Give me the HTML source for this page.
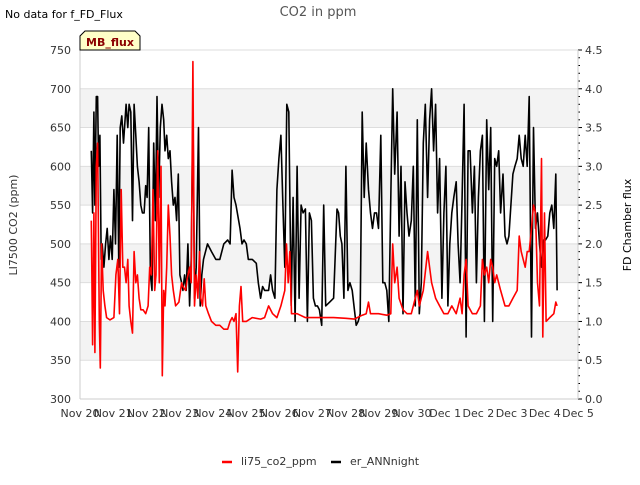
<!DOCTYPE html>
<html><head><meta charset="utf-8"><style>
body{margin:0;background:#fff;font-family:"Liberation Sans","DejaVu Sans",sans-serif;}
svg text{font-family:"DejaVu Sans","Liberation Sans",sans-serif;}
</style></head><body>
<svg id="c" width="640" height="480" xmlns="http://www.w3.org/2000/svg">
<text x="5" y="18" font-size="11" fill="#000">No data for f_FD_Flux</text>
<text x="318" y="16" font-size="13" fill="#555" text-anchor="middle">CO2 in ppm</text>
<g id="plot"></g>
<g>
<path d="M80,50 L80,36 L85,31 L135,31 L140,36 L140,50 Z" fill="#ffffc8" stroke="#000" stroke-width="1"/>
<text x="110" y="46" font-size="11" font-weight="bold" fill="#8b0000" text-anchor="middle">MB_flux</text>
</g>
<text transform="translate(17,225) rotate(-90)" font-size="11" fill="#333" text-anchor="middle">LI7500 CO2 (ppm)</text>
<text transform="translate(631,225) rotate(-90)" font-size="11" fill="#000" text-anchor="middle">FD Chamber flux</text>
<g>
<g><line x1="222" y1="462" x2="232" y2="462" stroke="#f00" stroke-width="2.5"/><text x="241" y="465" font-size="11" fill="#333">li75_co2_ppm</text></g>
<g><line x1="331" y1="462" x2="341" y2="462" stroke="#000" stroke-width="2.5"/><text x="350" y="465" font-size="11" fill="#333">er_ANNnight</text></g>
</g>
</svg>
<script>
const xTickLabels=["Nov 20","Nov 21","Nov 22","Nov 23","Nov 24","Nov 25","Nov 26","Nov 27","Nov 28","Nov 29","Nov 30","Dec 1","Dec 2","Dec 3","Dec 4","Dec 5"];
const yTicks=[300,350,400,450,500,550,600,650,700,750];
const y2Ticks=[0,0.5,1,1.5,2,2.5,3,3.5,4,4.5];
const redDays=[.34,.38,.42,.45,.49,.53,.58,.61,.65,.70,.75,.80,.90,1.02,1.08,1.14,1.19,1.24,1.29,1.34,1.39,1.44,1.48,1.53,1.58,1.63,1.68,1.73,1.78,1.83,1.90,1.98,2.05,2.10,2.15,2.20,2.25,2.29,2.34,2.39,2.44,2.48,2.52,2.56,2.61,2.66,2.71,2.76,2.81,2.88,2.98,3.06,3.10,3.18,3.23,3.30,3.35,3.40,3.45,3.50,3.55,3.60,3.64,3.69,3.74,3.79,3.87,3.96,4.09,4.21,4.33,4.45,4.52,4.58,4.64,4.70,4.75,4.80,4.85,4.90,5.01,5.19,5.44,5.56,5.68,5.80,5.93,6.05,6.17,6.22,6.27,6.32,6.37,6.54,6.79,7.15,7.64,8.01,8.26,8.50,8.62,8.69,8.75,8.99,9.24,9.36,9.42,9.48,9.55,9.61,9.73,9.85,9.98,10.10,10.16,10.22,10.34,10.47,10.53,10.59,10.65,10.71,10.83,10.96,11.08,11.20,11.33,11.45,11.51,11.57,11.63,11.69,11.82,11.94,12.06,12.12,12.18,12.25,12.31,12.37,12.43,12.49,12.55,12.67,12.80,12.92,13.04,13.17,13.23,13.29,13.35,13.41,13.47,13.53,13.60,13.66,13.72,13.78,13.84,13.90,13.94,13.99,14.04,14.15,14.27,14.33,14.37];
const redPpm=[530,370,540,360,600,630,400,340,500,440,420,405,402,405,460,480,410,570,470,470,450,480,420,400,385,490,450,460,430,415,415,410,420,470,460,570,440,460,620,450,600,330,440,420,470,550,510,460,440,420,425,450,445,440,455,470,450,735,420,460,430,490,430,420,455,420,410,400,395,395,390,390,400,405,400,410,335,420,445,400,400,405,403,405,420,410,405,420,440,500,450,490,410,410,405,405,405,404,403,408,410,425,410,410,408,410,500,450,470,430,415,410,410,430,440,420,440,490,470,450,440,430,420,410,410,420,410,430,410,460,480,420,410,410,420,480,460,470,450,480,470,450,460,440,420,420,430,440,510,490,480,470,490,490,520,550,540,450,420,610,380,540,400,405,410,425,420];
const blackDays=[.34,.38,.42,.45,.49,.53,.56,.60,.64,.67,.72,.77,.82,.87,.92,.97,1.02,1.07,1.12,1.17,1.21,1.26,1.31,1.39,1.44,1.48,1.53,1.58,1.63,1.68,1.73,1.78,1.83,1.88,1.93,1.98,2.02,2.07,2.12,2.17,2.22,2.27,2.32,2.37,2.42,2.47,2.52,2.56,2.61,2.66,2.71,2.76,2.81,2.86,2.91,2.96,3.01,3.06,3.10,3.15,3.20,3.25,3.30,3.35,3.40,3.45,3.50,3.57,3.62,3.67,3.72,3.84,3.96,4.09,4.21,4.33,4.45,4.52,4.58,4.64,4.70,4.82,4.88,4.94,5.01,5.07,5.19,5.31,5.37,5.44,5.50,5.56,5.68,5.74,5.80,5.87,5.93,5.99,6.05,6.11,6.17,6.23,6.29,6.36,6.42,6.48,6.54,6.60,6.66,6.72,6.79,6.85,6.91,6.97,7.03,7.09,7.15,7.21,7.28,7.34,7.40,7.52,7.64,7.74,7.79,7.84,7.89,7.95,8.01,8.07,8.13,8.20,8.32,8.38,8.44,8.50,8.56,8.62,8.69,8.75,8.81,8.87,8.93,8.99,9.06,9.12,9.18,9.24,9.30,9.36,9.42,9.48,9.55,9.61,9.67,9.73,9.79,9.85,9.91,9.98,10.04,10.10,10.16,10.22,10.28,10.34,10.40,10.47,10.53,10.59,10.65,10.71,10.77,10.83,10.90,10.96,11.02,11.08,11.14,11.20,11.26,11.33,11.39,11.45,11.51,11.57,11.63,11.69,11.75,11.82,11.88,11.94,12.00,12.06,12.12,12.18,12.25,12.31,12.37,12.43,12.49,12.55,12.61,12.67,12.74,12.80,12.86,12.92,12.98,13.04,13.10,13.17,13.23,13.29,13.35,13.41,13.47,13.53,13.60,13.66,13.72,13.78,13.84,13.90,13.96,14.02,14.09,14.15,14.21,14.27,14.33,14.37];
const blackFlux=[3.2,2.4,3.7,2.5,3.9,3.9,3.0,3.4,1.8,2.0,1.7,2.0,2.2,1.8,2.1,1.8,2.7,2.0,3.4,1.7,3.5,3.65,3.3,3.8,3.5,3.8,3.7,2.3,3.8,3.4,3.0,2.8,2.5,2.4,2.4,2.75,2.6,3.5,1.6,1.4,3.3,2.3,3.9,2.6,3.5,3.8,3.6,3.2,3.4,3.1,3.2,2.8,2.5,2.6,2.3,2.9,1.6,1.5,1.4,1.6,1.4,2.0,1.2,1.8,3.75,1.3,1.7,3.5,1.2,1.6,1.8,2.0,1.9,1.8,1.8,2.0,2.05,2.0,2.95,2.6,2.5,2.2,2.0,2.05,2.0,1.8,1.8,1.75,1.5,1.3,1.45,1.4,1.4,1.6,1.4,1.3,2.7,3.1,3.4,2.5,1.7,3.8,3.7,1.2,2.6,1.0,3.0,1.3,2.5,2.4,2.45,1.0,2.4,2.3,1.3,1.2,1.2,1.15,0.95,2.5,1.2,1.25,1.3,2.45,2.4,2.1,2.0,1.3,3.0,1.4,1.5,1.4,0.95,1.0,1.1,3.7,2.6,3.3,2.7,2.4,2.2,2.4,2.4,2.2,3.4,1.5,1.5,1.4,1.0,2.6,4.0,2.9,3.7,2.1,3.0,1.1,2.8,2.4,2.1,2.3,3.0,1.2,3.6,1.1,1.5,3.3,3.8,2.6,3.6,4.0,3.2,3.8,2.4,3.1,1.3,2.4,3.0,1.2,2.0,2.4,2.6,2.8,2.0,1.5,2.6,3.8,0.8,3.2,3.2,2.4,3.0,1.5,2.6,3.2,3.4,1.0,3.6,2.7,3.5,1.0,3.1,3.0,3.2,2.4,2.9,2.1,2.0,2.1,2.5,2.9,3.0,3.1,3.4,3.1,3.0,3.4,3.0,3.9,0.8,3.5,2.2,2.4,2.0,1.7,2.05,2.05,2.1,2.4,2.5,2.2,2.9,1.4];
const L=80,R=578,T=50,B=399,NS="http://www.w3.org/2000/svg";
const xS=d=>L+d*(R-L)/15;
const yS=v=>B-(v-300)*(B-T)/450;
const y2S=v=>B-v*(B-T)/4.5;
const g=document.getElementById('plot');
function mk(t,a){const e=document.createElementNS(NS,t);for(const k in a)e.setAttribute(k,a[k]);g.appendChild(e);return e;}
for(let i=0;i<yTicks.length-1;i++){
  if(i%2===1){const r=mk('rect',{x:L,y:yS(yTicks[i+1]),width:R-L,height:yS(yTicks[i])-yS(yTicks[i+1]),fill:'#f3f3f3'});
  
  }
}
yTicks.forEach(v=>{const l=mk('line',{x1:L,x2:R,y1:yS(v),y2:yS(v),stroke:'#ddd','stroke-width':1});


const t=mk('text',{x:71,y:yS(v)+4,'font-size':11,fill:'#333','text-anchor':'end'});t.textContent=v;

});
y2Ticks.forEach(v=>{const t=mk('text',{x:585,y:y2S(v)+4,'font-size':11,fill:'#333'});t.textContent=v.toFixed(1);


mk('line',{x1:R,x2:R+4,y1:y2S(v),y2:y2S(v),stroke:'#000'});});
for(let k=1;k<45;k++){if(k%5)mk('line',{x1:R,x2:R+2,y1:y2S(k/10),y2:y2S(k/10),stroke:'#000'});}
mk('line',{x1:L,x2:L,y1:T,y2:B,stroke:'#ccc'});
mk('line',{x1:R,x2:R,y1:T,y2:B,stroke:'#ccc'});
mk('line',{x1:L,x2:R,y1:B,y2:B,stroke:'#ccc'});
xTickLabels.forEach((s,i)=>{const t=mk('text',{x:xS(i),y:417,'font-size':11,fill:'#333','text-anchor':'middle'});t.textContent=s;

});
const bp=blackDays.map((d,i)=>xS(d).toFixed(1)+','+y2S(blackFlux[i]).toFixed(1)).join(' ');
const bl=mk('polyline',{points:bp,fill:'none',stroke:'#000','stroke-width':1.6,'stroke-linejoin':'round'});


const rp=redDays.map((d,i)=>xS(d).toFixed(1)+','+yS(redPpm[i]).toFixed(1)).join(' ');
const rl=mk('polyline',{points:rp,fill:'none',stroke:'#f00','stroke-width':1.6,'stroke-linejoin':'round'});


</script>
</body></html>
